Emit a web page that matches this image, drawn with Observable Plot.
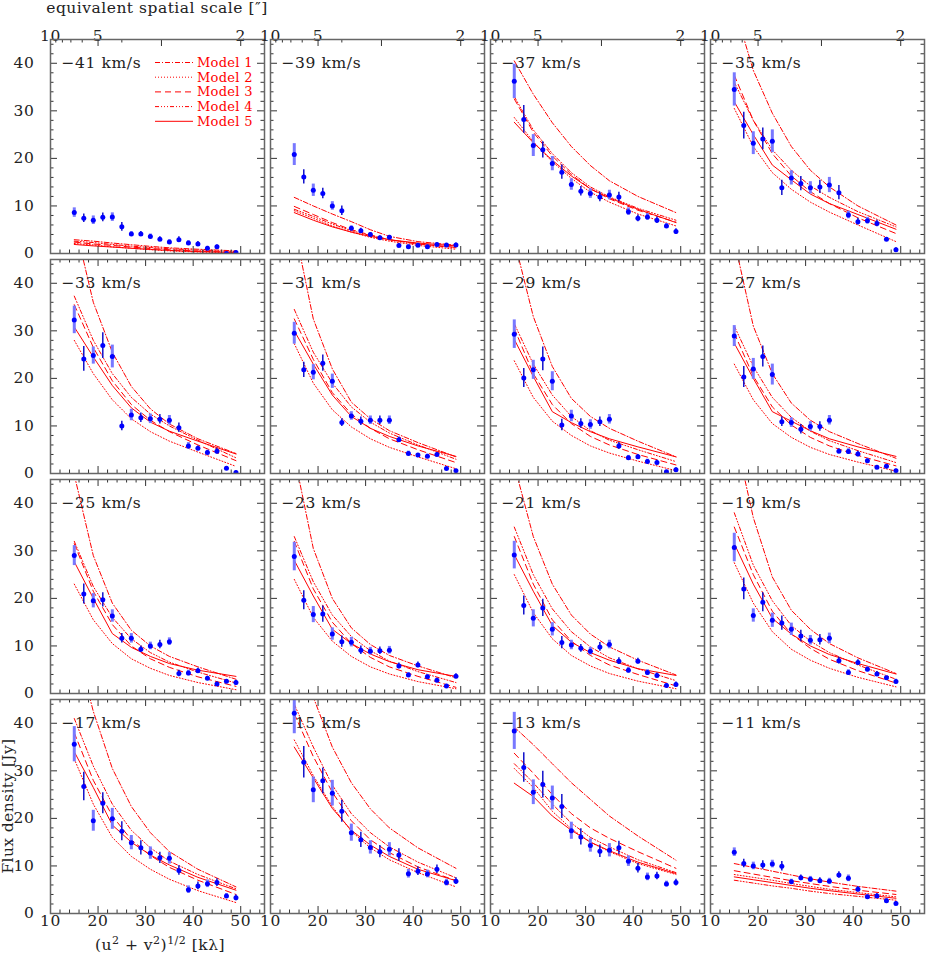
<!DOCTYPE html>
<html><head><meta charset="utf-8">
<script src="https://cdn.jsdelivr.net/npm/d3@7"></script>
<script src="https://cdn.jsdelivr.net/npm/@observablehq/plot@0.6"></script>
<style>
body{margin:0;background:#fff;}
#wrap{position:relative;width:926px;height:957px;overflow:hidden;font-family:"DejaVu Serif",serif;}
.panel{position:absolute;}
#overlay{position:absolute;left:0;top:0;pointer-events:none;}
</style></head><body><div id="wrap"></div><script>
// ---------------- data ----------------
const velocity = [-41,-39,-37,-35,-33,-31,-29,-27,-25,-23,-21,-19,-17,-15,-13,-11];
const uv = [15,17,19,21,23,25,27,29,31,33,35,37,39,41,43,45,47,49];
const modelUV = [15,19,23,27,31,35,41,49];
const modelNames = ["Model 1","Model 2","Model 3","Model 4","Model 5"];
const yTickLabels = [0,10,20,30,40];
const xTickLabels = [10,20,30,40,50];
const thetaTickLabels = [10,5,2];
const thetaMajor = [5,3,2];
const thetaMinor = [9,8,7,6,4];
const thetaScale = 100; // arcsec * kλ

const flux41 = [8.6,7.4,7.0,7.6,7.65,5.6,4.1,4.1,3.6,3.0,2.4,2.9,2.2,2.0,1.1,1.4,0.0,0.2];
const err41  = [1.0,0.9,0.9,0.9,0.9,0.9,0.5,0.5,0.5,0.5,0.5,0.6,0.5,0.5,0.4,0.4,0.3,0.3];
const flux39 = [20.8,16.1,13.3,12.6,10.0,9.0,5.3,4.8,4.0,3.3,3.4,1.7,1.4,1.75,1.4,1.9,1.8,1.8];
const err39  = [2.3,1.5,1.3,1.1,0.9,1.0,0.5,0.5,0.4,0.4,0.4,0.4,0.4,0.3,0.3,0.3,0.3,0.4];
const flux37 = [36.2,28.2,22.7,21.8,18.9,17.1,14.5,13.1,12.6,11.9,12.3,11.9,8.8,7.4,7.7,7.0,5.8,4.6];
const err37  = [3.6,2.9,2.3,1.7,1.5,1.5,1.2,1.0,1.0,1.0,1.0,1.0,0.8,0.7,0.7,0.7,0.5,0.6];
const flux35 = [34.5,26.9,23.2,24.1,23.6,13.8,15.9,14.7,13.8,14.0,14.4,12.8,8.1,6.7,6.9,6.3,3.0,0.8];
const err35  = [3.5,2.8,2.4,2.3,2.4,1.6,1.5,1.5,1.3,1.4,1.6,1.5,0.8,0.7,0.7,0.7,0.3,0.4];
const flux33 = [32.3,24.1,24.8,26.9,24.6,10.0,12.3,11.7,11.5,11.4,11.2,9.6,5.8,5.3,4.4,4.7,1.1,0.2];
const err33  = [2.9,2.6,1.8,2.7,2.4,1.0,1.2,1.0,1.0,1.0,1.0,1.0,0.7,0.5,0.5,0.6,0.3,0.3];
const flux31 = [29.5,21.8,21.3,23.2,19.4,10.7,12.1,11.0,11.2,11.2,11.2,7.1,4.2,3.9,3.65,4.0,1.05,0.6];
const err31  = [2.3,1.6,1.6,1.7,1.5,0.8,0.9,0.9,0.9,0.9,0.9,0.6,0.5,0.3,0.4,0.4,0.3,0.3];
const flux29 = [29.3,20.1,21.8,24.1,19.4,10.2,12.1,10.5,10.3,10.9,11.4,5.8,3.3,3.5,2.5,2.3,0.35,0.8];
const err29  = [3.0,2.0,2.0,2.5,2.0,1.2,1.2,1.0,1.0,1.0,1.0,0.7,0.5,0.5,0.5,0.5,0.3,0.4];
const flux27 = [28.9,20.3,22.0,24.6,20.8,10.9,10.7,9.3,9.9,9.9,11.2,4.7,4.6,4.1,2.7,1.3,1.5,0.6];
const err27  = [2.2,2.2,2.2,2.2,2.2,1.0,1.0,1.0,1.0,1.0,1.0,0.5,0.6,0.6,0.4,0.3,0.3,0.3];
const flux25 = [29.0,20.9,19.5,19.7,16.3,11.6,11.6,9.3,10.0,10.3,10.9,4.2,4.3,4.8,3.2,2.0,2.6,2.3];
const err25  = [2.1,2.1,1.5,1.5,1.3,1.0,1.0,0.7,0.8,0.9,0.8,0.7,0.6,0.5,0.4,0.4,0.3,0.5];
const flux23 = [28.8,19.6,16.6,16.7,12.5,10.9,10.8,9.1,8.9,9.0,9.1,5.8,3.9,6.0,3.5,2.8,1.6,3.65];
const err23  = [3.0,2.0,1.7,1.7,1.3,1.2,1.0,0.9,0.8,0.8,0.8,0.6,0.5,0.6,0.5,0.4,0.3,0.5];
const flux21 = [29.1,18.5,15.8,18.0,13.5,10.7,10.2,9.5,8.9,9.8,10.3,6.8,4.9,6.8,4.4,3.8,1.7,1.9];
const err21  = [2.9,2.0,1.8,1.8,1.4,1.3,1.0,0.8,0.8,0.9,0.9,0.7,0.6,0.6,0.6,0.5,0.3,0.5];
const flux19 = [30.7,22.0,16.4,19.2,15.4,14.8,13.5,12.1,11.2,11.3,11.6,6.9,4.4,6.5,5.1,4.1,3.3,2.5];
const err19  = [3.0,2.3,1.4,2.0,1.5,1.5,1.3,1.2,1.0,1.1,1.1,0.7,0.6,0.6,0.5,0.5,0.4,0.5];
const flux17 = [35.6,26.7,19.5,23.2,19.9,17.3,14.9,13.8,12.7,11.7,11.6,9.05,5.0,5.8,6.25,6.5,3.7,3.3];
const err17  = [3.7,3.0,2.2,2.2,2.2,2.0,1.5,1.5,1.3,1.2,1.2,1.0,0.8,0.8,0.8,0.8,0.5,0.6];
const flux15 = [42.1,31.8,26.0,27.9,25.3,21.5,17.0,15.5,13.9,13.0,13.5,12.3,8.35,8.9,8.3,9.3,6.5,6.8];
const err15  = [4.3,3.3,2.7,2.7,2.7,2.3,1.8,1.6,1.4,1.3,1.4,1.3,0.9,0.9,0.8,0.9,0.7,0.7];
const flux13 = [38.4,30.7,25.5,27.1,24.3,22.5,17.4,16.1,14.3,13.1,13.3,13.8,11.0,9.5,7.7,7.9,6.2,6.5];
const err13  = [3.9,3.1,2.6,2.8,2.5,2.5,1.8,1.7,1.4,1.3,1.4,1.4,1.1,1.0,0.8,0.8,0.6,0.7];
const flux11 = [12.9,10.5,10.0,10.2,10.4,9.95,6.7,7.5,7.2,6.9,6.8,8.1,7.4,5.1,3.5,3.7,2.7,2.1];
const err11  = [0.9,0.9,0.8,0.9,0.8,1.0,0.5,0.6,0.6,0.6,0.6,0.7,0.7,0.6,0.4,0.5,0.4,0.4];

// model curves (Model 1..5) sampled at modelUV
const model41 = [[2.9,2.6,2.2,1.85,1.5,1.2,0.9,0.55],[2.1,1.8,1.4,1.1,0.8,0.55,0.3,0.1],[2.4,2.0,1.7,1.35,1.05,0.8,0.5,0.25],[2.6,2.3,1.9,1.55,1.25,1.0,0.7,0.4],[1.9,1.6,1.35,1.1,0.85,0.65,0.4,0.2]];
const model39 = [[11.8,10.0,8.3,6.7,5.0,3.6,2.5,1.75],[9.0,7.4,5.8,4.5,3.4,2.6,1.7,0.9],[9.9,8.2,6.5,5.0,3.9,2.9,2.0,1.3],[9.3,7.8,6.2,4.8,3.8,2.9,2.0,1.2],[8.6,7.0,5.6,4.5,3.6,2.9,2.2,1.6]];
const model37 = [[40.5,33.5,27.5,22.5,18.5,15.3,12.0,8.6],[28.6,23.5,19.3,15.8,12.9,10.8,8.3,5.8],[32.5,25.5,20.5,16.6,13.6,11.5,9.1,6.6],[33.0,26.0,21.0,17.0,14.0,11.9,9.5,7.0],[27.6,23.3,19.6,16.3,13.6,11.7,9.3,6.5]];
const model35 = [[52,38.5,29.5,22.5,17.5,14.0,10.0,6.0],[30.5,22.5,17.0,13.5,10.8,8.7,6.0,2.5],[37.5,28.0,21.0,16.3,13.0,10.5,7.5,4.2],[36,28,21.8,17.5,14.2,11.8,8.8,5.6],[31.9,25.0,18.6,15.5,12.5,10.5,8.2,5.1]];
const model33 = [[53,36,25.5,18.3,13.6,10.4,7.3,4.2],[28,21,15.5,11.5,8.8,6.8,4.5,1.5],[35.5,26.5,19.5,14.5,11.2,8.8,6.0,2.7],[37.3,28,21,16,12.5,10.0,7.0,3.3],[30.8,24.5,18.5,13.8,10.8,8.9,6.8,4.1]];
const model31 = [[52,32.5,22,15,11.5,9.0,6.5,3.5],[27.3,19,13.4,9.8,7.3,5.5,3.5,1.0],[32.5,24,17,12.5,9.5,7.3,5.0,2.3],[34.5,25.5,19,14,10.8,8.5,6.0,3.0],[30.0,23,16.5,12.0,9.5,7.8,5.8,3.6]];
const model29 = [[49,33,22.5,15.8,12,9.5,6.8,3.5],[23.7,16,11,8,5.8,4.3,2.6,0.6],[30.5,21,14.5,10.5,7.8,6.0,4.0,1.8],[31.5,23,16.5,12.0,9.0,7.0,5.0,2.5],[28.2,20.4,13.0,10.7,8.8,7.3,5.6,3.5]];
const model27 = [[49,31,21,14.8,11.2,8.8,6.3,3.2],[23,15.5,10.5,7.6,5.5,4.0,2.4,0.5],[29.5,20.5,14,10.2,7.6,5.8,3.8,1.6],[31,22.5,16,11.8,8.9,6.9,4.8,2.3],[27.4,20,13,11.0,9.0,7.3,5.6,3.6]];
const model25 = [[46,29,19,13.3,10,7.8,5.6,3.0],[23,15.5,10.5,7.3,5.3,3.8,2.3,0.8],[31.5,21.5,14.5,10.0,7.3,5.5,3.5,1.5],[32,22.5,16.0,11.5,8.6,6.6,4.5,2.2],[27.7,20,12.6,9.7,7.8,6.3,4.9,3.6]];
const model23 = [[50,30.5,20,13.8,10.3,8,5.8,3.3],[24,16,11,7.8,5.6,4.1,2.5,1.0],[32,22,15,10.5,7.6,5.6,3.6,1.3],[33,23.5,16.5,12,9,6.8,4.6,2.3],[28,20.5,13.5,10.5,8.3,6.7,5.0,3.6]];
const model21 = [[48,33,23,16.5,12.5,9.8,7.0,3.9],[25,17,11.5,8.0,5.8,4.2,2.6,1.0],[33,23,15.5,11,8.0,6,4,1.6],[35,25,17.8,13,9.8,7.5,5.2,2.7],[29.2,21.5,14.3,10.8,8.6,7.0,5.2,3.8]];
const model19 = [[55,37,24.5,17.5,13.5,10.5,7.5,4.2],[27.5,19,13,9.3,7.0,5.3,3.4,1.4],[35,25,17.3,12.5,9.5,7.2,4.8,2.2],[38,27,19.5,14.3,11,8.6,6.0,3.0],[31.5,23,15.8,12.5,10.0,8.2,6.3,4.1]];
const model17 = [[58,42.5,30.5,22.5,17,13,9.3,5.6],[32.5,23,16,12,9.3,7.2,4.8,2.3],[38,28,20.5,15.5,12.2,9.7,7.0,4.0],[41,31,23,17.5,13.8,11,8.2,5.2],[34,26.5,18.6,15.0,12.3,10.2,7.6,4.9]];
const model15 = [[60,45.5,35,27.5,22,18,13.8,9.5],[36.5,29,22.5,17.3,13.8,11.3,8.6,5.6],[42,33,25.5,19.5,15.5,12.8,9.8,6.9],[44,35,27,21,17,14,10.8,7.5],[35,28.5,22.1,17.5,14.4,12,9.3,6.9]];
const model13 = [[39.2,35.5,31.5,27.5,24,20.5,16.3,11.2],[30.5,26.5,21.5,17.8,15,13,10.5,8.2],[33.7,29.5,25,21,18,15.8,13,9.5],[31.5,27.5,23,19,16,14,11.3,8.6],[27.4,24.6,20.5,17.5,15.0,13.2,10.8,8.4]];
const model11 = [[10.5,9.7,8.9,8.1,7.3,6.6,5.7,4.7],[8.2,7.6,7.0,6.3,5.7,5.1,4.4,3.5],[9.0,8.3,7.6,6.9,6.3,5.7,4.9,4.0],[7.0,6.4,5.8,5.3,4.7,4.2,3.6,2.8],[7.7,7.1,6.5,5.9,5.3,4.8,4.1,3.2]];

const fluxes = [flux41,flux39,flux37,flux35,flux33,flux31,flux29,flux27,flux25,flux23,flux21,flux19,flux17,flux15,flux13,flux11];
const errors = [err41,err39,err37,err35,err33,err31,err29,err27,err25,err23,err21,err19,err17,err15,err13,err11];
const models = [model41,model39,model37,model35,model33,model31,model29,model27,model25,model23,model21,model19,model17,model15,model13,model11];

// ---------------- styles ----------------
const modelDash = ["5,2,1,2", "1,2", "6,4", "4,2,1,2,1,2,1,2", null];
const RED = "#ff0000";
const W = 214, H = 214, X0 = 50, Y0 = 39, PITCH = 220;
const FONT = "'DejaVu Serif', serif";
const INK = "#222";
const FS = 15.5;

const wrap = document.getElementById("wrap");
const yMinor = d3.range(2, 45, 2).filter(v => v % 10 !== 0);
const xMinor = d3.range(12, 55, 2).filter(v => v % 10 !== 0);

velocity.forEach((v, idx) => {
  const row = Math.floor(idx / 4), col = idx % 4;
  const pts = uv.map((u, j) => ({u, f: fluxes[idx][j], e: errors[idx][j], alt: j % 2}));
  const marks = [];
  models[idx].forEach((m, k) => {
    marks.push(Plot.line(modelUV.map((u, j) => ({u, f: m[j]})), {
      x: "u", y: "f", stroke: RED, strokeWidth: 1, strokeDasharray: modelDash[k], clip: true
    }));
  });
  marks.push(Plot.ruleX(pts.filter(d => !d.alt), {x: "u", y1: d => d.f - d.e, y2: d => d.f + d.e, stroke: "#7878ff", strokeWidth: 3, clip: true}));
  marks.push(Plot.ruleX(pts.filter(d => d.alt), {x: "u", y1: d => d.f - d.e, y2: d => d.f + d.e, stroke: "#0000c8", strokeWidth: 1.4, clip: true}));
  marks.push(Plot.dot(pts, {x: "u", y: "f", r: 2.5, fill: "#0000ff", clip: true}));
  // ticks (inward, all sides)
  const tk = {stroke: "#333", strokeWidth: 1};
  marks.push(Plot.tickY(yTickLabels, {...tk, y: d => d, insetRight: W - 7}));
  marks.push(Plot.tickY(yMinor, {...tk, y: d => d, insetRight: W - 3.5}));
  marks.push(Plot.tickY(yTickLabels, {...tk, y: d => d, insetLeft: W - 7}));
  marks.push(Plot.tickY(yMinor, {...tk, y: d => d, insetLeft: W - 3.5}));
  marks.push(Plot.tickX(xTickLabels, {...tk, x: d => d, insetTop: H - 7}));
  marks.push(Plot.tickX(xMinor, {...tk, x: d => d, insetTop: H - 3.5}));
  if (row === 0) {
    marks.push(Plot.tickX(thetaMajor, {...tk, x: d => thetaScale / d, insetBottom: H - 7}));
    marks.push(Plot.tickX(thetaMinor, {...tk, x: d => thetaScale / d, insetBottom: H - 3.5}));
    marks.push(Plot.text(thetaTickLabels, {x: d => thetaScale / d, text: d => String(d), frameAnchor: "top", dy: -10, fontSize: FS, fill: INK}));
  } else {
    marks.push(Plot.tickX(xTickLabels, {...tk, x: d => d, insetBottom: H - 7}));
    marks.push(Plot.tickX(xMinor, {...tk, x: d => d, insetBottom: H - 3.5}));
  }
  if (col === 0) {
    marks.push(Plot.text(yTickLabels, {y: d => d, text: d => String(d), frameAnchor: "left", textAnchor: "end", dx: -16, fontSize: FS, fill: INK}));
  }
  if (row === 3) {
    marks.push(Plot.text(xTickLabels, {x: d => d, text: d => String(d), frameAnchor: "bottom", dy: 12, fontSize: FS, fill: INK}));
  }
  marks.push(Plot.frame({stroke: "#666", strokeWidth: 1.5}));
  marks.push(Plot.text([`\u2212${Math.abs(v)} km/s`], {text: d => d, frameAnchor: "top-left", textAnchor: "start", dx: 11, dy: 17, fontSize: FS, fill: INK}));

  const svg = Plot.plot({
    width: W, height: H, margin: 0,
    x: {domain: [10, 55], axis: null},
    y: {domain: [0, 45], axis: null},
    style: {background: "transparent", overflow: "visible", fontFamily: FONT, fontSize: FS + "px", letterSpacing: "0.6px", maxWidth: "none"},
    marks
  });
  const div = document.createElement("div");
  div.className = "panel";
  div.style.left = (X0 + col * PITCH) + "px";
  div.style.top = (Y0 + row * PITCH) + "px";
  div.appendChild(svg);
  wrap.appendChild(div);
});

// ---------------- titles + legend overlay ----------------
const ov = d3.select(wrap).append("svg").attr("id", "overlay")
  .attr("width", 926).attr("height", 957)
  .style("font-family", FONT);
ov.append("text").attr("x", X0 + W / 2).attr("y", 12.5).attr("text-anchor", "middle")
  .attr("font-size", 15.5).attr("letter-spacing", "0.5px").attr("fill", INK).text("equivalent spatial scale [\u2033]");
ov.append("text").attr("transform", `translate(13,${Y0 + 3 * PITCH + H / 2}) rotate(-90)`)
  .attr("text-anchor", "middle").attr("font-size", 15.5).attr("letter-spacing", "0.4px").attr("fill", INK).text("Flux density [Jy]");
const xt = ov.append("text").attr("x", X0 + W / 2 + 3).attr("y", 950).attr("text-anchor", "middle")
  .attr("font-size", 15.5).attr("letter-spacing", "0.5px").attr("fill", INK);
xt.append("tspan").text("(u");
xt.append("tspan").attr("dy", -6).attr("font-size", 11).text("2");
xt.append("tspan").attr("dy", 6).text(" + v");
xt.append("tspan").attr("dy", -6).attr("font-size", 11).text("2");
xt.append("tspan").attr("dy", 6).text(")");
xt.append("tspan").attr("dy", -6).attr("font-size", 11).text("1/2");
xt.append("tspan").attr("dy", 6).text(" [k\u03bb]");

const lg = ov.append("g");
modelNames.forEach((name, k) => {
  const yy = 62.5 + k * 14.7;
  lg.append("line").attr("x1", 155).attr("x2", 193).attr("y1", yy).attr("y2", yy)
    .attr("stroke", RED).attr("stroke-width", 1).attr("stroke-dasharray", modelDash[k]);
  lg.append("text").attr("x", 197).attr("y", yy + 4.5).attr("font-size", 13).attr("letter-spacing", "0.3px").attr("fill", RED).text(name);
});
</script></body></html>
